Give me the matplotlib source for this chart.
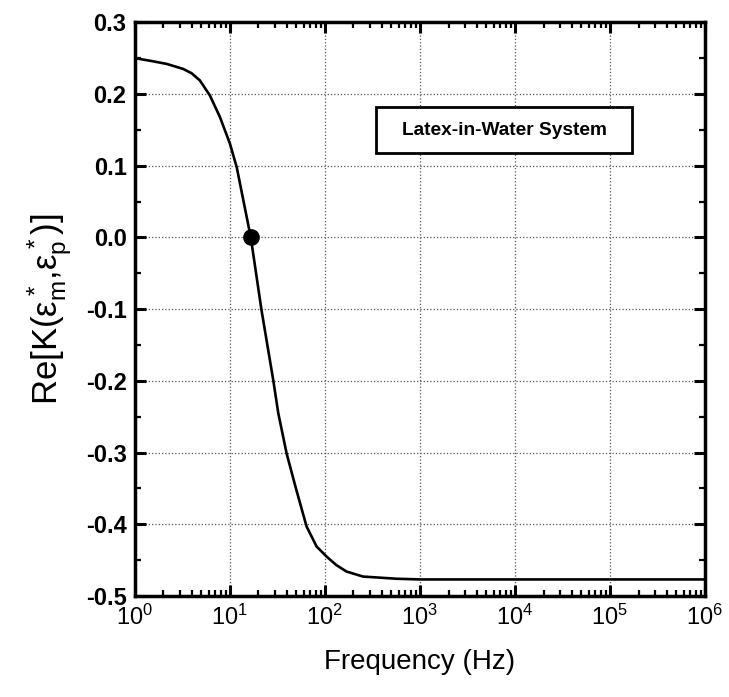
import matplotlib
matplotlib.use('Agg')
import matplotlib.pyplot as plt
from matplotlib.patches import Rectangle
from matplotlib.ticker import LogLocator, MultipleLocator, NullFormatter

plt.rcParams['font.family'] = ['Liberation Sans', 'DejaVu Sans']
plt.rcParams['mathtext.fontset'] = 'custom'
plt.rcParams['mathtext.rm'] = 'Liberation Sans'
plt.rcParams['mathtext.it'] = 'Liberation Sans'
plt.rcParams['mathtext.bf'] = 'Liberation Sans:bold'

# values
freq = [1, 1.5, 2.16, 3.22, 3.95, 4.83, 6.16, 7.85, 10, 11.8, 15.0, 16.6,
        21.5, 28.6, 32.3, 39.5, 49.1, 64.1, 81.7, 104, 132, 169, 252,
        564, 1000, 1e4, 1e5, 1e6]
re_k = [0.250, 0.246, 0.242, 0.235, 0.229, 0.219, 0.198, 0.168, 0.131, 0.098,
        0.029, 0.0, -0.101, -0.199, -0.245, -0.301, -0.348, -0.403,
        -0.431, -0.445, -0.457, -0.466, -0.473, -0.476, -0.477, -0.477,
        -0.477, -0.477]
cross_f = [16.6]
cross_k = [0.0]
label_text = 'Latex-in-Water System'

fig = plt.figure(figsize=(7.29, 6.97), dpi=100)
ax = fig.add_axes([0.185, 0.145, 0.782, 0.823])

ax.plot(freq, re_k, '-', color='black', linewidth=1.9)
ax.plot(cross_f, cross_k, 'o', color='black', markersize=11)

ax.set_xscale('log')
ax.set_xlim(1, 1e6)
ax.set_ylim(-0.5, 0.3)
ax.yaxis.set_minor_locator(MultipleLocator(0.05))
ax.xaxis.set_major_locator(LogLocator(base=10, numticks=10))
ax.xaxis.set_minor_locator(LogLocator(base=10, subs=range(2, 10), numticks=20))
ax.xaxis.set_minor_formatter(NullFormatter())
ax.set_yticks([0.3, 0.2, 0.1, 0.0, -0.1, -0.2, -0.3, -0.4, -0.5])
ax.set_yticklabels(['0.3', '0.2', '0.1', '0.0', '-0.1', '-0.2', '-0.3', '-0.4', '-0.5'],
                   fontweight='bold')

ax.grid(True, which='major', linestyle=':', color='#555555', linewidth=0.9)
ax.tick_params(which='both', direction='in', top=True, right=True)
ax.tick_params(which='major', length=8, width=2.2, labelsize=17, pad=6)
ax.tick_params(which='minor', length=4, width=1.6)
for s in ax.spines.values():
    s.set_linewidth(2.5)

ax.set_xlabel('Frequency (Hz)', fontsize=20, labelpad=14)
ax.set_ylabel(r'Re[K($\varepsilon_m^*$,$\varepsilon_p^*$)]', fontsize=25, labelpad=8)

# annotation box
ax.add_patch(Rectangle((0.423, 0.772), 0.449, 0.080, transform=ax.transAxes,
                       facecolor='white', edgecolor='black', linewidth=2, zorder=3))
ax.text(0.648, 0.812, label_text, transform=ax.transAxes, ha='center', va='center',
        fontsize=13.8, fontweight='bold', zorder=4)

fig.savefig('out.png', dpi=100)
